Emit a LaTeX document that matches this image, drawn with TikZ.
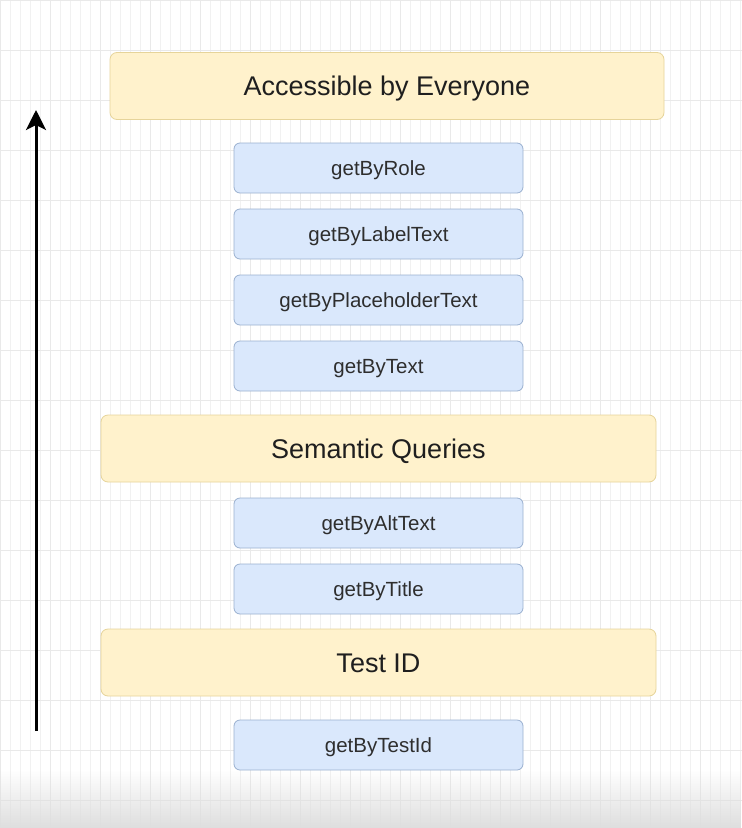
\documentclass[tikz,border=0pt]{standalone}
\usepackage{fontspec}
\setmainfont{Liberation Sans}
\usetikzlibrary{arrows.meta,fadings}
\definecolor{catfill}{HTML}{FFF2CC}
\definecolor{catline}{HTML}{E6D49A}
\definecolor{qfill}{HTML}{DAE8FC}
\definecolor{qline}{HTML}{9AB0D0}
\definecolor{gridc}{HTML}{F1F1F1}
\definecolor{gridm}{HTML}{E9E9E9}
\begin{document}
\begin{tikzpicture}[x=1pt,y=-1pt,
  category/.style={draw=catline, fill=catfill, rounded corners=7pt, line width=0.8pt,
    minimum height=67pt, text=black!88, font=\fontsize{27}{30}\selectfont,
    text height=19.4pt, text depth=0pt},
  query/.style={draw=qline, fill=qfill, rounded corners=6pt, line width=0.8pt,
    minimum width=289pt, minimum height=50pt, text=black!82, font=\fontsize{20.5}{23}\selectfont,
    text height=14.7pt, text depth=0pt},
  levelarrow/.style={line width=3pt, -{Stealth[length=20pt,width=20pt,inset=5pt]}}]
  % canvas and grid
  \useasboundingbox (0,0) rectangle (742,828);
  \fill[white] (0,0) rectangle (742,828);
  \draw[gridc, line width=0.5pt, step=10] (0,0) grid (742,828);
  \foreach \gx in {0,50,...,740} \draw[gridm, line width=0.6pt] (\gx,0) -- (\gx,828);
  \foreach \gy in {0,50,...,820} \draw[gridm, line width=0.6pt] (0,\gy) -- (742,\gy);
  \fill[black!13, path fading=north] (0,770) rectangle (742,828);

  % query categories
  \node[category, minimum width=554pt] (everyone) at (387,86) {Accessible by Everyone};
  \node[category, minimum width=555pt] (semantic) at (378.5,448.5) {Semantic Queries};
  \node[category, minimum width=555pt] (testid)   at (378.5,662.5) {Test ID};

  % queries
  \node[query] (role)  at (378.5,168) {getByRole};
  \node[query] (label) at (378.5,234) {getByLabelText};
  \node[query] (ph)    at (378.5,300) {getByPlaceholderText};
  \node[query] (text)  at (378.5,366) {getByText};
  \node[query] (alt)   at (378.5,523) {getByAltText};
  \node[query] (title) at (378.5,589) {getByTitle};
  \node[query] (tid)   at (378.5,745) {getByTestId};

  % priority arrow
  \coordinate (low)  at (36,731);
  \coordinate (high) at (36,110);
  \draw[levelarrow] (low) -- (high);
\end{tikzpicture}
\end{document}
